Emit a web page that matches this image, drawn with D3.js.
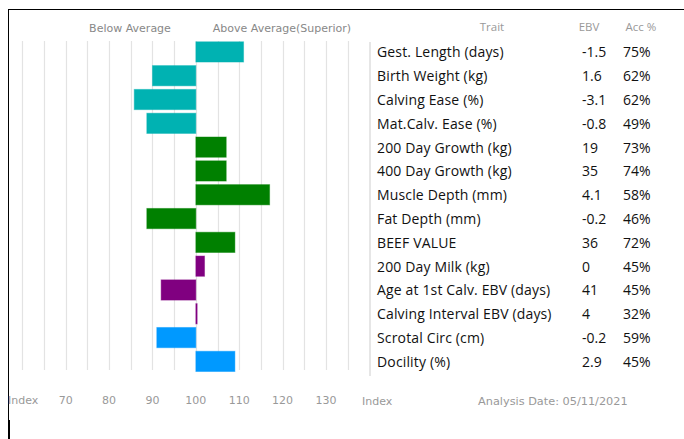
<!DOCTYPE html>
<html>
<head>
<meta charset="utf-8">
<script src="https://cdn.jsdelivr.net/npm/d3@7"></script>
<style>
html,body{margin:0;padding:0;background:#fff;}
svg{display:block;}
</style>
</head>
<body>
<svg id="chart" width="684" height="439"></svg>
<script>
const traits = ["Gest. Length (days)","Birth Weight (kg)","Calving Ease (%)","Mat.Calv. Ease (%)","200 Day Growth (kg)","400 Day Growth (kg)","Muscle Depth (mm)","Fat Depth (mm)","BEEF VALUE","200 Day Milk (kg)","Age at 1st Calv. EBV (days)","Calving Interval EBV (days)","Scrotal Circ (cm)","Docility (%)"];
const indexValues = [111, 90, 85.8, 88.7, 107, 107, 117, 88.7, 109, 102, 92, 100.3, 91, 109];
const ebv = ["-1.5","1.6","-3.1","-0.8","19","35","4.1","-0.2","36","0","41","4","-0.2","2.9"];
const acc = ["75%","62%","62%","49%","73%","74%","58%","46%","72%","45%","45%","32%","59%","45%"];
const groups = ["calving","calving","calving","calving","growth","growth","growth","growth","growth","maternal","maternal","maternal","other","other"];
const groupColors = {calving:"#00B2B2", growth:"#008000", maternal:"#800080", other:"#0099FF"};
const tickValues = [70,80,90,100,110,120,130];
const gridValues = [60,65,70,75,80,85,90,95,100,105,110,115,120,125,130,135];
const analysisDate = "05/11/2021";

const svg = d3.select("#chart");
const x = d3.scaleLinear().domain([60,135]).range([22.3,347.7]);
const y = d3.scaleBand().domain(traits).range([40,373.3]).paddingInner(0.15).paddingOuter(0.075);

const verdana = "Verdana, 'DejaVu Sans', sans-serif";
const tableFont = "'Open Sans', sans-serif";

// frame
svg.append("line").attr("x1",8).attr("x2",684).attr("y1",9.5).attr("y2",9.5).attr("stroke","#000").attr("stroke-width",1);
svg.append("line").attr("x1",8.5).attr("x2",8.5).attr("y1",9).attr("y2",420).attr("stroke","#000").attr("stroke-width",1);
svg.append("line").attr("x1",9).attr("x2",9).attr("y1",420).attr("y2",439).attr("stroke","#000").attr("stroke-width",2);

// gridlines
svg.append("g").selectAll("line").data(gridValues).join("line")
  .attr("x1",d=>Math.round(x(d))+0.5).attr("x2",d=>Math.round(x(d))+0.5)
  .attr("y1",41).attr("y2",370)
  .attr("stroke","#e3e3e3").attr("stroke-width",1.2);

// header
svg.append("text").attr("x",130).attr("y",32).attr("text-anchor","middle")
  .attr("font-family",verdana).attr("font-size",11).attr("fill","#888").text("Below Average");
svg.append("text").attr("x",282).attr("y",32).attr("text-anchor","middle")
  .attr("font-family",verdana).attr("font-size",11).attr("fill","#888").text("Above Average(Superior)");

// bars
svg.append("g").selectAll("rect").data(traits).join("rect")
  .attr("x",(d,i)=>x(Math.min(100,indexValues[i])))
  .attr("width",(d,i)=>Math.max(1,Math.abs(x(indexValues[i])-x(100))))
  .attr("y",d=>y(d)).attr("height",y.bandwidth())
  .attr("fill",(d,i)=>groupColors[groups[i]])
  .attr("stroke",(d,i)=>groupColors[groups[i]])
  .attr("stroke-opacity",0.45).attr("stroke-width",1);

// x axis labels
const axisY = 404;
svg.append("text").attr("x",8).attr("y",axisY).attr("font-family",verdana).attr("font-size",11).attr("fill","#999").text("Index");
svg.append("g").selectAll("text").data(tickValues).join("text")
  .attr("x",d=>x(d)).attr("y",axisY).attr("text-anchor","middle")
  .attr("font-family",verdana).attr("font-size",11).attr("fill","#999").text(d=>d);

// table
svg.append("line").attr("x1",370).attr("x2",370).attr("y1",42).attr("y2",376).attr("stroke","#e6e6e6").attr("stroke-width",2);
const headY = 31;
svg.append("text").attr("x",492).attr("y",headY).attr("text-anchor","middle").attr("font-family",tableFont).attr("font-size",11.5).attr("fill","#999").text("Trait");
svg.append("text").attr("x",589).attr("y",headY).attr("text-anchor","middle").attr("font-family",tableFont).attr("font-size",11.5).attr("fill","#999").text("EBV");
svg.append("text").attr("x",641).attr("y",headY).attr("text-anchor","middle").attr("font-family",tableFont).attr("font-size",11.5).attr("fill","#999").text("Acc %");

const rows = svg.append("g").selectAll("g").data(traits).join("g")
  .attr("transform",d=>`translate(0,${y(d)+y.bandwidth()/2+5.5})`);
rows.append("text").attr("x",377).attr("font-family",tableFont).attr("font-size",14).attr("letter-spacing",0.15).attr("fill","#111").text(d=>d);
rows.append("text").attr("x",582).attr("font-family",tableFont).attr("font-size",14).attr("fill","#111").text((d,i)=>ebv[i]);
rows.append("text").attr("x",623).attr("font-family",tableFont).attr("font-size",14).attr("fill","#111").text((d,i)=>acc[i]);

// footer
svg.append("text").attr("x",362).attr("y",405).attr("font-family",verdana).attr("font-size",11).attr("fill","#999").text("Index");
svg.append("text").attr("x",478).attr("y",405).attr("font-family",verdana).attr("font-size",11.3).attr("fill","#999").text("Analysis Date: " + analysisDate);
</script>
</body>
</html>
